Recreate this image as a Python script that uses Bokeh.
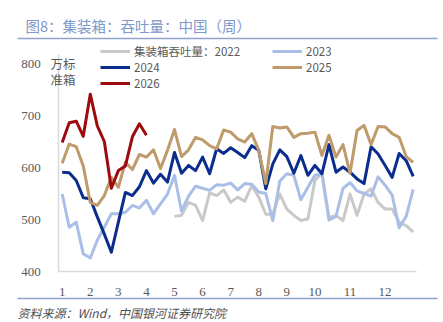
from bokeh.plotting import figure
from bokeh.models import (Label, BoxAnnotation, Legend, LegendItem, FixedTicker,
                          Range1d)
from bokeh.embed import file_html
from bokeh.resources import INLINE

# ---------------- data ----------------
weeks = list(range(1, 52))
tick_weeks = [1, 5, 9, 13, 17, 21, 25, 29, 33, 37, 42, 47]
tick_labels = ["1", "2", "3", "4", "5", "6", "7", "8", "9", "10", "11", "12"]
y_ticks = [400, 500, 600, 700, 800]

weeks_2022 = weeks[16:]
v2022 = [506, 508, 533, 527, 498, 551, 546, 557, 533, 543, 535, 565, 543, 510, 510,
         549, 520, 508, 498, 501, 575, 590, 504, 508, 498, 549, 508, 549, 559, 533,
         520, 520, 495, 488, 476]
v2023 = [549, 485, 495, 434, 426, 460, 485, 511, 511, 514, 527, 522, 537, 511, 530,
         549, 585, 516, 545, 564, 560, 556, 567, 566, 570, 557, 569, 568, 553, 550,
         498, 574, 588, 585, 538, 562, 585, 588, 499, 506, 560, 571, 555, 550, 545,
         582, 566, 547, 484, 506, 558]
v2024 = [591, 590, 575, 542, 540, 505, 472, 437, 495, 552, 546, 563, 594, 570, 587,
         572, 629, 589, 604, 594, 620, 588, 636, 627, 638, 629, 619, 642, 633, 559,
         607, 634, 621, 589, 623, 585, 604, 588, 644, 591, 601, 591, 578, 569, 640,
         626, 604, 581, 627, 613, 583]
v2025 = [608, 645, 640, 603, 533, 527, 546, 581, 562, 610, 596, 625, 620, 634, 598,
         633, 673, 621, 634, 658, 653, 642, 636, 672, 668, 655, 649, 665, 633, 569,
         679, 676, 678, 658, 665, 666, 668, 623, 662, 620, 644, 589, 671, 681, 644,
         679, 678, 665, 658, 621, 610]
weeks_2026 = weeks[:13]
v2026 = [648, 686, 689, 660, 741, 680, 650, 560, 594, 603, 659, 684, 662]

series = [
    ("集装箱吞吐量：2022", weeks_2022, v2022, "#C9C9C9"),
    ("2023", weeks, v2023, "#AABFE7"),
    ("2024", weeks, v2024, "#0B2E8E"),
    ("2025", weeks, v2025, "#BF9A6A"),
    ("2026", weeks_2026, v2026, "#9E0B0F"),
]

title_text = "图8：集装箱：吞吐量：中国（周）"
source_text = "资料来源：Wind，中国银河证券研究院"
unit_lines = ["万标", "准箱"]

CJK = "Noto Sans CJK SC"
SERIF = "Liberation Serif"

W, H = 443, 322
# pixel geometry of the plotting area inside the canvas
PX_PER_WEEK = 7.02
X_WEEK1 = 61.7
PX_PER_UNIT = 0.52
Y_800 = 63.0

x0 = 1 - X_WEEK1 / PX_PER_WEEK
x1 = x0 + W / PX_PER_WEEK
y1 = 800 + Y_800 / PX_PER_UNIT
y0 = y1 - H / PX_PER_UNIT

# ---------------- figure ----------------
p = figure(width=W, height=H, output_backend="svg", toolbar_location=None,
           x_range=Range1d(x0, x1), y_range=Range1d(y0, y1),
           min_border=0, min_border_left=0, min_border_right=0,
           min_border_top=0, min_border_bottom=0)
p.outline_line_color = None
p.xgrid.visible = False
p.ygrid.visible = False
p.background_fill_color = "white"
p.border_fill_color = "white"

renderers = {}
for name, xs, ys, color in series:
    renderers[name] = p.line(xs, ys, line_color=color, line_width=3, line_join="round")

# axes (library axes pinned at the plot-area edges)
for ax in (p.xaxis[0], p.yaxis[0]):
    ax.axis_line_color = "#D9D9D9"
    ax.axis_line_width = 1.5
    ax.major_tick_line_color = None
    ax.minor_tick_line_color = None
    ax.major_label_text_font = SERIF
    ax.major_label_text_font_size = "13px"
    ax.major_label_text_color = "#595959"

p.yaxis[0].ticker = FixedTicker(ticks=y_ticks)
p.yaxis[0].fixed_location = 0.5
p.yaxis[0].bounds = (400, 818)
p.yaxis[0].major_label_standoff = 12
p.xaxis[0].ticker = FixedTicker(ticks=tick_weeks)
p.xaxis[0].major_label_overrides = {w: t for w, t in zip(tick_weeks, tick_labels)}
p.xaxis[0].fixed_location = 400
p.xaxis[0].bounds = (0.5, 51.5)
p.xaxis[0].major_label_standoff = 10

# legends
def make_legend(names, loc):
    items = [LegendItem(label=n, renderers=[renderers[n]]) for n in names]
    return Legend(items=items, location=loc, orientation="vertical",
                  glyph_width=30, glyph_height=16, label_height=16, spacing=0,
                  padding=0, margin=0, label_standoff=4,
                  label_text_font=CJK, label_text_font_size="11.5px",
                  label_text_color="#595959",
                  border_line_color=None, background_fill_alpha=0)

p.add_layout(make_legend(["集装箱吞吐量：2022", "2024", "2026"], (100, H - 91)), "center")
p.add_layout(make_legend(["2023", "2025"], (272, H - 75)), "center")

# title & source
p.add_layout(Label(x=25, y=H - 25, x_units="screen", y_units="screen", text=title_text,
                   text_font=CJK, text_font_size="14.5px", text_color="#8097C9",
                   text_baseline="middle"))
p.add_layout(Label(x=17, y=H - 312, x_units="screen", y_units="screen", text=source_text,
                   text_font=CJK, text_font_size="12px", text_color="#505050",
                   text_font_style="italic", text_baseline="middle"))
for k, t in enumerate(unit_lines):
    p.add_layout(Label(x=50, y=H - 63 - 16 * k, x_units="screen", y_units="screen",
                       text=t, text_font=CJK, text_font_size="12.5px",
                       text_color="#595959", text_baseline="middle"))

# rule lines
for yy in (H - 38, H - 298):
    p.add_layout(BoxAnnotation(left=17, right=437, bottom=yy - 0.75, top=yy + 0.75,
                               left_units="screen", right_units="screen",
                               bottom_units="screen", top_units="screen",
                               fill_color="#8EA3CD", fill_alpha=1, line_color=None))

open("out.html", "w").write(file_html(p, INLINE))
